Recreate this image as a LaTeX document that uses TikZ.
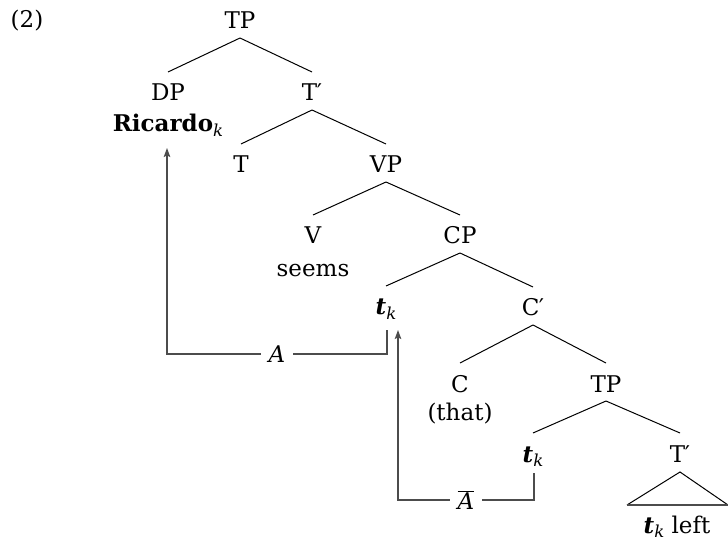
\documentclass[tikz,border=0pt]{standalone}
\usepackage{fontspec}
\setmainfont{DejaVu Serif}
\usetikzlibrary{arrows.meta,calc}
\newcommand\subk{\raisebox{-0.35ex}{\fontsize{16.5}{16.5}\selectfont\itshape\mdseries k}}
\newcommand\trace{\textbf{\textit{t}}\subk}
\begin{document}
\begin{tikzpicture}[x=1pt,y=-1pt,
  every node/.style={font=\fontsize{23}{27}\selectfont, inner sep=0pt},
  tn/.style={anchor=base},
  branch/.style={draw=black, line width=1pt},
  move/.style={draw=black!70, line width=1.1pt},
  tip/.style={-{Stealth[length=9pt,width=6.5pt,inset=1.5pt]}},
  gap/.style={fill=white, inner xsep=8pt, inner ysep=2pt}]
\useasboundingbox (0,0) rectangle (728,545);
\node[tn] (ex) at (27,28) {(2)};
\node[tn] (tp1) at (240,29) {TP};
\node[tn] (dp) at (168,101) {DP};
\node[tn] (ric) at (168,132) {\textbf{Ricardo}\subk};
\node[tn] (tb1) at (312,101) {T\kern-0.5pt′};
\node[tn] (t) at (241,173) {T};
\node[tn] (vp) at (386,173) {VP};
\node[tn] (v) at (313,244) {V};
\node[tn] (seems) at (313,277) {seems};
\node[tn] (cp) at (460,244) {CP};
\node[tn] (tk1) at (386,315) {\trace};
\node[tn] (cb) at (533,316) {C\kern-0.5pt′};
\node[tn] (c) at (460,392) {C};
\node[tn] (that) at (460,420) {(that)};
\node[tn] (tp2) at (606,392) {TP};
\node[tn] (tk2) at (533,462) {\trace};
\node[tn] (tb2) at (680,462) {T\kern-0.5pt′};
\node[tn] (tkl) at (677,533) {\trace{} left};
% branches
\foreach \p/\c in {tp1/dp, tp1/tb1, tb1/t, tb1/vp, vp/v, vp/cp, cp/tk1, cp/cb, cb/c, cb/tp2, tp2/tk2, tp2/tb2}
  \draw[branch] ($(\p.base)+(0,9)$) -- ($(\c.base)+(0,-29)$);
% triangle
\coordinate (apex) at ($(tb2.base)+(0,10)$);
\coordinate (bl) at ($(tkl.base)+(-50,-28)$);
\coordinate (br) at ($(tkl.base)+(51,-28)$);
\draw[branch] (bl) -- (apex) -- (br);
\draw[move, line width=1.4pt] (bl) -- (br);
% movement A
\coordinate (a1) at ($(tk1.base)+(1,15)$);
\coordinate (a2) at ($(a1)+(0,24)$);
\coordinate (a3) at ($(ric.base)+(-1,222)$);
\coordinate (a4) at ($(ric.base)+(-1,16)$);
\draw[move, tip] (a1) -- (a2) -- node[gap, pos=0.5] (la) {\itshape A} (a3) -- (a4);
% movement A-bar
\coordinate (b1) at ($(tk2.base)+(1,11)$);
\coordinate (b2) at ($(tk2.base)+(1,38)$);
\coordinate (b3) at ($(tk1.base)+(12,185)$);
\coordinate (b4) at ($(tk1.base)+(12,15)$);
\draw[move, tip] (b1) -- (b2) -- node[gap, pos=0.5] (lb) {$\overline{\hbox{\itshape A}}$} (b3) -- (b4);
\end{tikzpicture}
\end{document}
